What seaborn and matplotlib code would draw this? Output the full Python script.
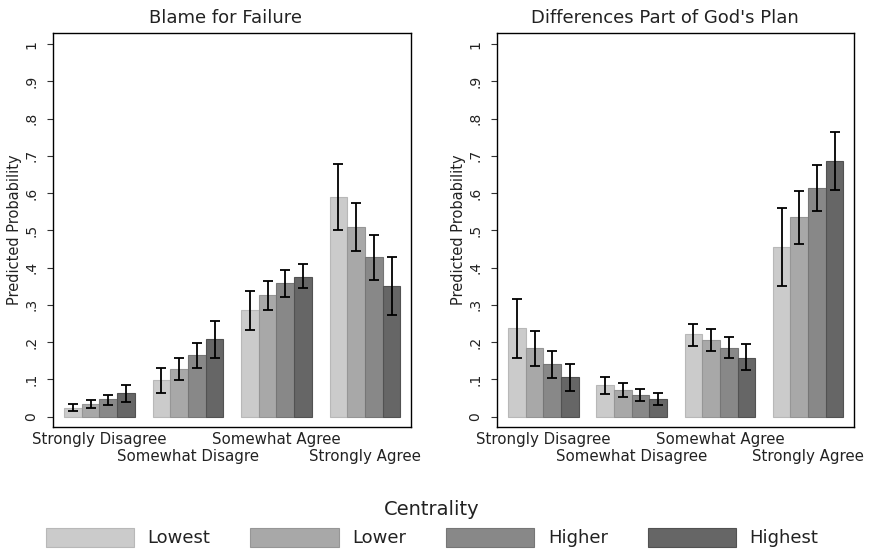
import numpy as np
import pandas as pd
import matplotlib
matplotlib.use("Agg")
import matplotlib.pyplot as plt
import seaborn as sns
from matplotlib.patches import Patch

sns.set_style("white")
plt.rcParams['font.family'] = ['DejaVu Sans']

categories_left = ["Strongly Disagree", "Somewhat Disagre", "Somewhat Agree", "Strongly Agree"]
categories_right = ["Strongly Disagree", "Somewhat Disagree", "Somewhat Agree", "Strongly Agree"]
levels = ["Lowest", "Lower", "Higher", "Highest"]
colors = ["#cbcbcb", "#a8a8a8", "#888888", "#666666"]
edge_colors = ["#b8b8b8", "#969696", "#767676", "#525252"]

# Blame for Failure: rows = categories, cols = centrality levels
blame_est = [[0.024, 0.034, 0.047, 0.063],
             [0.098, 0.128, 0.166, 0.208],
             [0.286, 0.327, 0.358, 0.376],
             [0.591, 0.510, 0.429, 0.352]]
blame_lo = [[0.014, 0.022, 0.031, 0.040],
            [0.064, 0.098, 0.132, 0.158],
            [0.233, 0.286, 0.322, 0.345],
            [0.501, 0.445, 0.367, 0.272]]
blame_hi = [[0.034, 0.045, 0.059, 0.085],
            [0.130, 0.157, 0.199, 0.258],
            [0.338, 0.365, 0.394, 0.410],
            [0.679, 0.574, 0.489, 0.430]]

# Differences Part of God's Plan
god_est = [[0.237, 0.184, 0.141, 0.106],
           [0.084, 0.072, 0.059, 0.047],
           [0.221, 0.206, 0.185, 0.158],
           [0.456, 0.535, 0.613, 0.687]]
god_lo = [[0.158, 0.137, 0.105, 0.070],
          [0.062, 0.053, 0.043, 0.031],
          [0.191, 0.177, 0.157, 0.124],
          [0.352, 0.464, 0.552, 0.609]]
god_hi = [[0.316, 0.230, 0.175, 0.141],
          [0.107, 0.090, 0.074, 0.063],
          [0.249, 0.235, 0.213, 0.194],
          [0.559, 0.606, 0.675, 0.764]]

yticks = [0, .1, .2, .3, .4, .5, .6, .7, .8, .9, 1]
ytick_labels = ["0", ".1", ".2", ".3", ".4", ".5", ".6", ".7", ".8", ".9", "1"]


def make_df(cats, est, lo, hi):
    rows = []
    for i, c in enumerate(cats):
        for j, l in enumerate(levels):
            rows.append(dict(category=c, centrality=l, p=est[i][j], lo=lo[i][j], hi=hi[i][j]))
    return pd.DataFrame(rows)


fig = plt.figure(figsize=(8.73, 5.5), dpi=100)
W, H = 873, 550
ax1 = fig.add_axes([53 / W, (H - 427) / H, 358 / W, 394 / H])
ax2 = fig.add_axes([497 / W, (H - 427) / H, 357 / W, 394 / H])

TXT = "#222222"


def draw(ax, cats, est, lo, hi, title, title_x):
    df = make_df(cats, est, lo, hi)
    sns.barplot(data=df, x="category", y="p", hue="centrality", order=cats,
                hue_order=levels, palette=colors, width=0.8, errorbar=None,
                legend=False, ax=ax, saturation=1)
    bar_containers = list(ax.containers)
    for j, container in enumerate(bar_containers):
        for i, bar in enumerate(container.patches):
            bar.set_edgecolor(edge_colors[j])
            bar.set_linewidth(0.8)
            xc = bar.get_x() + bar.get_width() / 2
            e = est[i][j]
            ax.errorbar(xc, e, yerr=[[e - lo[i][j]], [hi[i][j] - e]], fmt="none",
                        ecolor="black", elinewidth=1.3, capsize=3.3, capthick=1.3, zorder=5)
    ax.set_xlim(-0.525, 3.52)
    ax.set_ylim(-0.0277, 1.030)
    ax.set_yticks(yticks)
    ax.set_yticklabels(ytick_labels, rotation=90, va="center", fontsize=10)
    ax.tick_params(axis="y", which="both", left=True, length=4.5, width=0.8,
                   color="#333333", pad=6, labelcolor=TXT)
    ax.set_xticks(range(4))
    ax.set_xticklabels([])
    ax.tick_params(axis="x", bottom=False, length=0)
    for k, c in enumerate(cats):
        yoff = -0.0305 if k % 2 == 0 else -0.074
        ax.text(k, yoff, c, ha="center", va="center", fontsize=10.8, color=TXT,
                transform=ax.get_xaxis_transform())
    ax.set_xlabel("")
    ax.set_ylabel("Predicted Probability", fontsize=10.5, color=TXT, labelpad=1.5)
    ax.set_title(title, fontsize=13, color=TXT, pad=7, x=title_x)
    for s in ax.spines.values():
        s.set_visible(True)
        s.set_color("black")
        s.set_linewidth(1.0)


draw(ax1, categories_left, blame_est, blame_lo, blame_hi, "Blame for Failure", 0.481)
draw(ax2, categories_right, god_est, god_lo, god_hi, "Differences Part of God's Plan", 0.47)

handles = [Patch(facecolor=colors[j], edgecolor=edge_colors[j], linewidth=0.8) for j in range(4)]
leg = fig.legend(handles, levels, loc="lower center", bbox_to_anchor=(0.495, -0.008), ncol=4,
                 frameon=False, fontsize=13, title="Centrality", title_fontsize=14,
                 handlelength=4.9, handleheight=1.25, handletextpad=0.75, columnspacing=2.2,
                 borderaxespad=0.0)
for t in leg.get_texts():
    t.set_color(TXT)
leg.get_title().set_color(TXT)

fig.savefig("out.png", dpi=100)
